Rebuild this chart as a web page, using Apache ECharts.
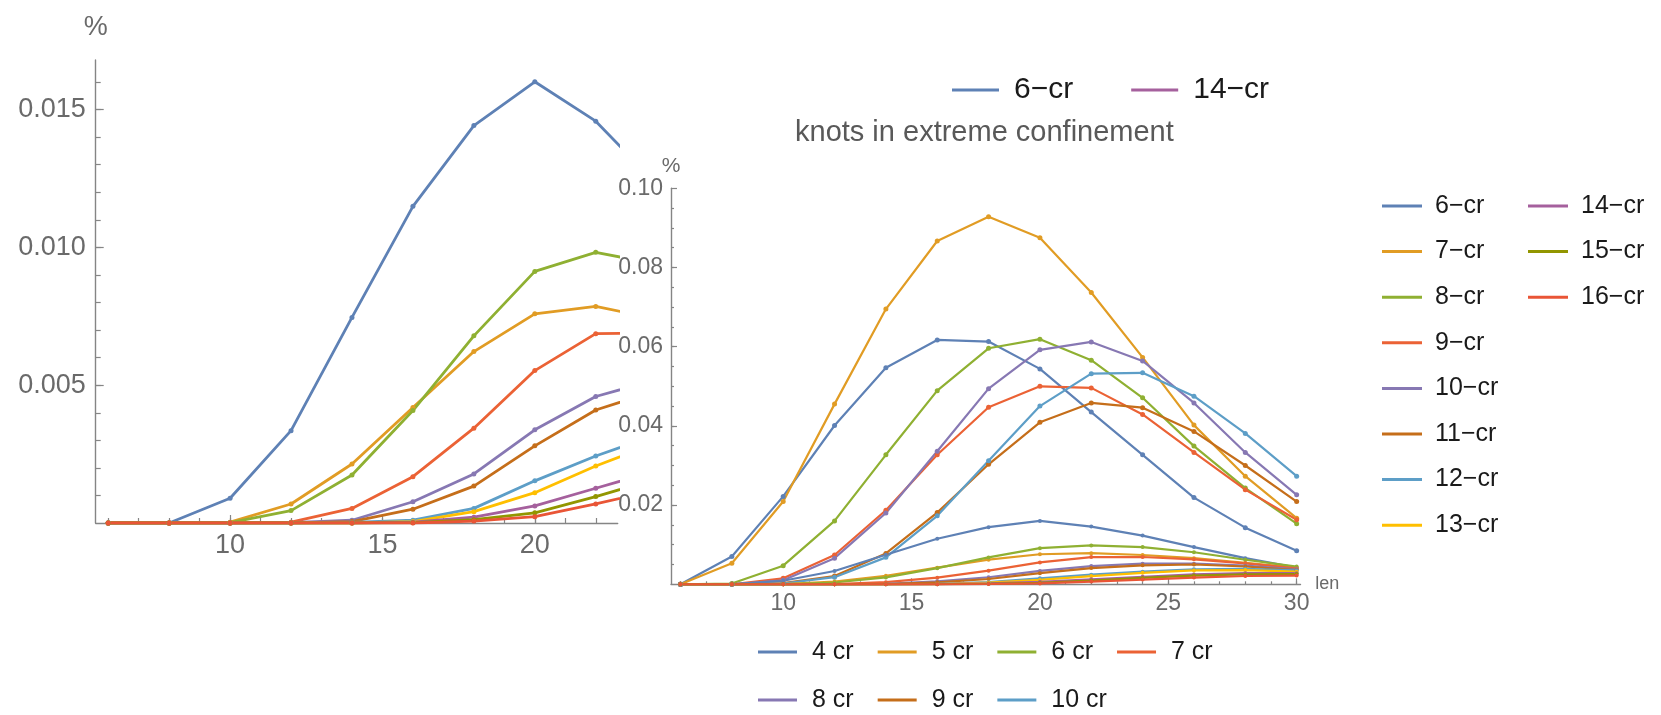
<!DOCTYPE html>
<html>
<head>
<meta charset="utf-8">
<script src="https://cdn.jsdelivr.net/npm/echarts@6/dist/echarts.min.js"></script>
<style>
  html, body { margin: 0; padding: 0; background: #ffffff; }
  #chart { width: 1661px; height: 715px; }
</style>
</head>
<body>
<div id="chart"></div>
<script>
// knot length (number of segments) sampled on both panels
const lens = [6, 8, 10, 12, 14, 16, 18, 20, 22, 24, 26, 28, 30];

// crossing-number series shown in the magnified panel (and again near the floor of the full panel)
const crNames = ['6−cr', '7−cr', '8−cr', '9−cr', '10−cr', '11−cr', '12−cr', '13−cr', '14−cr', '15−cr', '16−cr'];
const cr6  = [0, 0, 0.0009, 0.00335, 0.00746, 0.01149, 0.01442, 0.01601, 0.01458, 0.0123, 0.0094, 0.0066, 0.0042];
const cr7  = [0, 0, 0.00003, 0.00069, 0.00214, 0.00419, 0.00622, 0.00759, 0.00786, 0.0074, 0.0066, 0.0054, 0.0042];
const cr8  = [0, 0, 0.00001, 0.00045, 0.00174, 0.00408, 0.00679, 0.00913, 0.00982, 0.0094, 0.0081, 0.0062, 0.0045];
const cr9  = [0, 0, 0, 0.00003, 0.00053, 0.00168, 0.00344, 0.00553, 0.00687, 0.0069, 0.0063, 0.0053, 0.0040];
const cr10 = [0, 0, 0, 0.00001, 0.0001, 0.00077, 0.00178, 0.00338, 0.00459, 0.0052, 0.0052, 0.0047, 0.0038];
const cr11 = [0, 0, 0, 0, 0.00005, 0.0005, 0.00134, 0.0028, 0.0041, 0.0048, 0.0050, 0.0045, 0.0036];
const cr12 = [0, 0, 0, 0, 0.00002, 0.0001, 0.00053, 0.00153, 0.00243, 0.0032, 0.0038, 0.0039, 0.0035];
const cr13 = [0, 0, 0, 0, 0, 0.00005, 0.00041, 0.0011, 0.00207, 0.0029, 0.0035, 0.0036, 0.0032];
const cr14 = [0, 0, 0, 0, 0, 0.00003, 0.00021, 0.00062, 0.00126, 0.0019, 0.0025, 0.0028, 0.0028];
const cr15 = [0, 0, 0, 0, 0, 0.00001, 0.00012, 0.00037, 0.00096, 0.0016, 0.0022, 0.0025, 0.0026];
const cr16 = [0, 0, 0, 0, 0, 0, 0.00007, 0.00023, 0.00069, 0.0012, 0.0017, 0.0021, 0.0022];
const crValues = [cr6, cr7, cr8, cr9, cr10, cr11, cr12, cr13, cr14, cr15, cr16];

// the dominant low-crossing series of the full panel
const bigNames = ['4 cr', '5 cr', '6 cr', '7 cr', '8 cr', '9 cr', '10 cr'];
const big4  = [0, 0.0070, 0.0222, 0.0401, 0.0547, 0.0617, 0.0613, 0.0544, 0.0435, 0.0327, 0.0219, 0.0143, 0.0085];
const big5  = [0, 0.0053, 0.0209, 0.0455, 0.0695, 0.0867, 0.0928, 0.0875, 0.0737, 0.0573, 0.0402, 0.0273, 0.0167];
const big6  = [0, 0.0002, 0.0047, 0.0160, 0.0327, 0.0489, 0.0596, 0.0619, 0.0566, 0.0471, 0.0349, 0.0243, 0.0153];
const big7  = [0, 0, 0.0015, 0.0074, 0.0187, 0.0327, 0.0447, 0.0500, 0.0496, 0.0429, 0.0333, 0.0239, 0.0163];
const big8  = [0, 0, 0.0010, 0.0066, 0.0180, 0.0336, 0.0494, 0.0592, 0.0612, 0.0564, 0.0458, 0.0333, 0.0226];
const big9  = [0, 0, 0.0003, 0.0021, 0.0078, 0.0181, 0.0303, 0.0409, 0.0458, 0.0446, 0.0386, 0.0300, 0.0209];
const big10 = [0, 0, 0.0002, 0.0018, 0.0068, 0.0173, 0.0312, 0.0450, 0.0532, 0.0534, 0.0475, 0.0381, 0.0273];
const bigValues = [big4, big5, big6, big7, big8, big9, big10];

// tick labels
const leftXLabels = [10, 15, 20];
const leftYLabels = [0.005, 0.010, 0.015];
const rightXLabels = [10, 15, 20, 25, 30];
const rightYLabels = [0.02, 0.04, 0.06, 0.08, 0.10];

const palette = ['#5E81B5', '#E19C24', '#8FB032', '#EB6235', '#8778B3', '#C56E1A',
                 '#5D9EC7', '#FFBF00', '#A5609D', '#929600', '#E95536'];

const FONT = '"Liberation Sans", Arial, sans-serif';
const AXIS_GREY = '#858585';
const LABEL_GREY = '#6a6a6a';

function steps(from, to, step) {
  const out = [];
  for (let v = from; v <= to + step / 1000; v += step) out.push(+v.toFixed(6));
  return out;
}

function toPairs(vals) { return lens.map((x, i) => [x, vals[i]]); }

function valueAxis(cfg) {
  return Object.assign({
    type: 'value',
    splitLine: { show: false },
    axisLine: { show: true, onZero: false, lineStyle: { color: AXIS_GREY, width: 1.4 } },
    axisTick: { show: true, inside: true, length: 4, lineStyle: { color: AXIS_GREY, width: 1.2 } },
    axisLabel: { show: false }
  }, cfg);
}

function majorTicks(cfg, values, length) {
  return valueAxis(Object.assign(cfg, {
    axisLine: { show: false },
    axisTick: { show: true, inside: true, length: length, customValues: values,
                lineStyle: { color: AXIS_GREY, width: 1.2 } },
    axisLabel: { show: false }
  }));
}

const xAxis = [
  // magnified panel
  valueAxis({
    gridIndex: 0, position: 'bottom', min: 5.59, max: 22.72,
    axisTick: { show: true, inside: true, length: 5, customValues: steps(6, 22, 1),
                lineStyle: { color: AXIS_GREY, width: 1.2 } },
    axisLabel: { show: true, customValues: leftXLabels, fontSize: 27, color: LABEL_GREY,
                 fontFamily: FONT, margin: 9 }
  }),
  majorTicks({ gridIndex: 0, position: 'bottom', min: 5.59, max: 22.72 }, leftXLabels, 8),
  // full panel
  valueAxis({
    gridIndex: 1, position: 'bottom', min: 5.63, max: 30.15,
    name: 'len', nameLocation: 'end', nameGap: 10,
    nameTextStyle: { fontSize: 18, color: LABEL_GREY, fontFamily: FONT },
    axisTick: { show: true, inside: true, length: 3, customValues: steps(6, 30, 1),
                lineStyle: { color: AXIS_GREY, width: 1.2 } },
    axisLabel: { show: true, customValues: rightXLabels, fontSize: 23, color: LABEL_GREY,
                 fontFamily: FONT, margin: 8 }
  }),
  majorTicks({ gridIndex: 1, position: 'bottom', min: 5.63, max: 30.15 }, rightXLabels, 6)
];

const yAxis = [
  valueAxis({
    gridIndex: 0, position: 'left', min: 0, max: 0.0168,
    name: '%', nameLocation: 'end', nameGap: 19,
    nameTextStyle: { fontSize: 27, color: LABEL_GREY, fontFamily: FONT },
    axisTick: { show: true, inside: true, length: 5, customValues: steps(0.001, 0.016, 0.001),
                lineStyle: { color: AXIS_GREY, width: 1.2 } },
    axisLabel: { show: true, customValues: leftYLabels, fontSize: 27, color: LABEL_GREY,
                 fontFamily: FONT, margin: 10, formatter: v => v.toFixed(3) }
  }),
  majorTicks({ gridIndex: 0, position: 'left', min: 0, max: 0.0168 }, leftYLabels, 8),
  valueAxis({
    gridIndex: 1, position: 'left', min: 0, max: 0.10,
    name: '%', nameLocation: 'end', nameGap: 11,
    nameTextStyle: { fontSize: 21, color: LABEL_GREY, fontFamily: FONT },
    axisTick: { show: true, inside: true, length: 3, customValues: steps(0.005, 0.095, 0.005),
                lineStyle: { color: AXIS_GREY, width: 1.2 } },
    axisLabel: { show: true, customValues: rightYLabels, fontSize: 23, color: LABEL_GREY,
                 fontFamily: FONT, margin: 8, formatter: v => v.toFixed(2) }
  }),
  majorTicks({ gridIndex: 1, position: 'left', min: 0, max: 0.10 }, rightYLabels, 6)
];

function lineSeries(name, vals, color, xi, yi, width, size) {
  return {
    type: 'line', name: name, xAxisIndex: xi, yAxisIndex: yi,
    data: toPairs(vals), clip: true,
    symbol: 'circle', symbolSize: size, showSymbol: true, showAllSymbol: true,
    lineStyle: { color: color, width: width },
    itemStyle: { color: color },
    emphasis: { disabled: true }
  };
}

const series = [];
// magnified panel: 6–16 crossings
crValues.forEach((vals, i) => series.push(lineSeries(crNames[i], vals, palette[i], 0, 0, 2.8, 5)));
// full panel: 4–10 crossings, then the higher crossings near the floor
bigValues.forEach((vals, i) => series.push(lineSeries(bigNames[i], vals, palette[i], 2, 2, 2.2, 5)));
crValues.forEach((vals, i) => series.push(lineSeries(crNames[i], vals, palette[i], 2, 2, 2.2, 4)));

function legendBlock(cfg) {
  return Object.assign({
    icon: 'rect', itemWidth: 40, itemHeight: 3, padding: 0,
    selectedMode: false,
    textStyle: { fontSize: 25, lineHeight: 30, color: '#1a1a1a', fontFamily: FONT, padding: [0, 0, 0, 8] }
  }, cfg);
}

const legend = [
  legendBlock({
    data: ['6−cr', '14−cr'], orient: 'horizontal', left: 952, top: 73,
    itemWidth: 47, itemGap: 58,
    textStyle: { fontSize: 30, lineHeight: 34, color: '#1a1a1a', fontFamily: FONT, padding: [0, 0, 0, 10] }
  }),
  legendBlock({ data: crNames.slice(0, 8), orient: 'vertical', left: 1382, top: 191, itemGap: 15.6 }),
  legendBlock({ data: crNames.slice(8), orient: 'vertical', left: 1528, top: 191, itemGap: 15.6 }),
  legendBlock({
    data: bigNames.slice(0, 4), orient: 'horizontal', left: 758, top: 637, itemWidth: 39, itemGap: 24,
    textStyle: { fontSize: 25, lineHeight: 30, color: '#1a1a1a', fontFamily: FONT, padding: [0, 0, 0, 10] }
  }),
  legendBlock({
    data: bigNames.slice(4), orient: 'horizontal', left: 758, top: 685, itemWidth: 39, itemGap: 24,
    textStyle: { fontSize: 25, lineHeight: 30, color: '#1a1a1a', fontFamily: FONT, padding: [0, 0, 0, 10] }
  })
];

const chart = echarts.init(document.getElementById('chart'), null, { renderer: 'canvas' });
chart.setOption({
  backgroundColor: '#ffffff',
  animation: false,
  title: {
    text: 'knots in extreme confinement', left: 795, top: 118, padding: 0,
    textStyle: { fontSize: 29, fontWeight: 'normal', color: '#595959', fontFamily: FONT }
  },
  grid: [
    { left: 95.7, top: 60, width: 522, height: 463, containLabel: false },
    { left: 671, top: 188.3, width: 629.5, height: 396, containLabel: false }
  ],
  xAxis: xAxis,
  yAxis: yAxis,
  legend: legend,
  series: series
});
</script>
</body>
</html>
